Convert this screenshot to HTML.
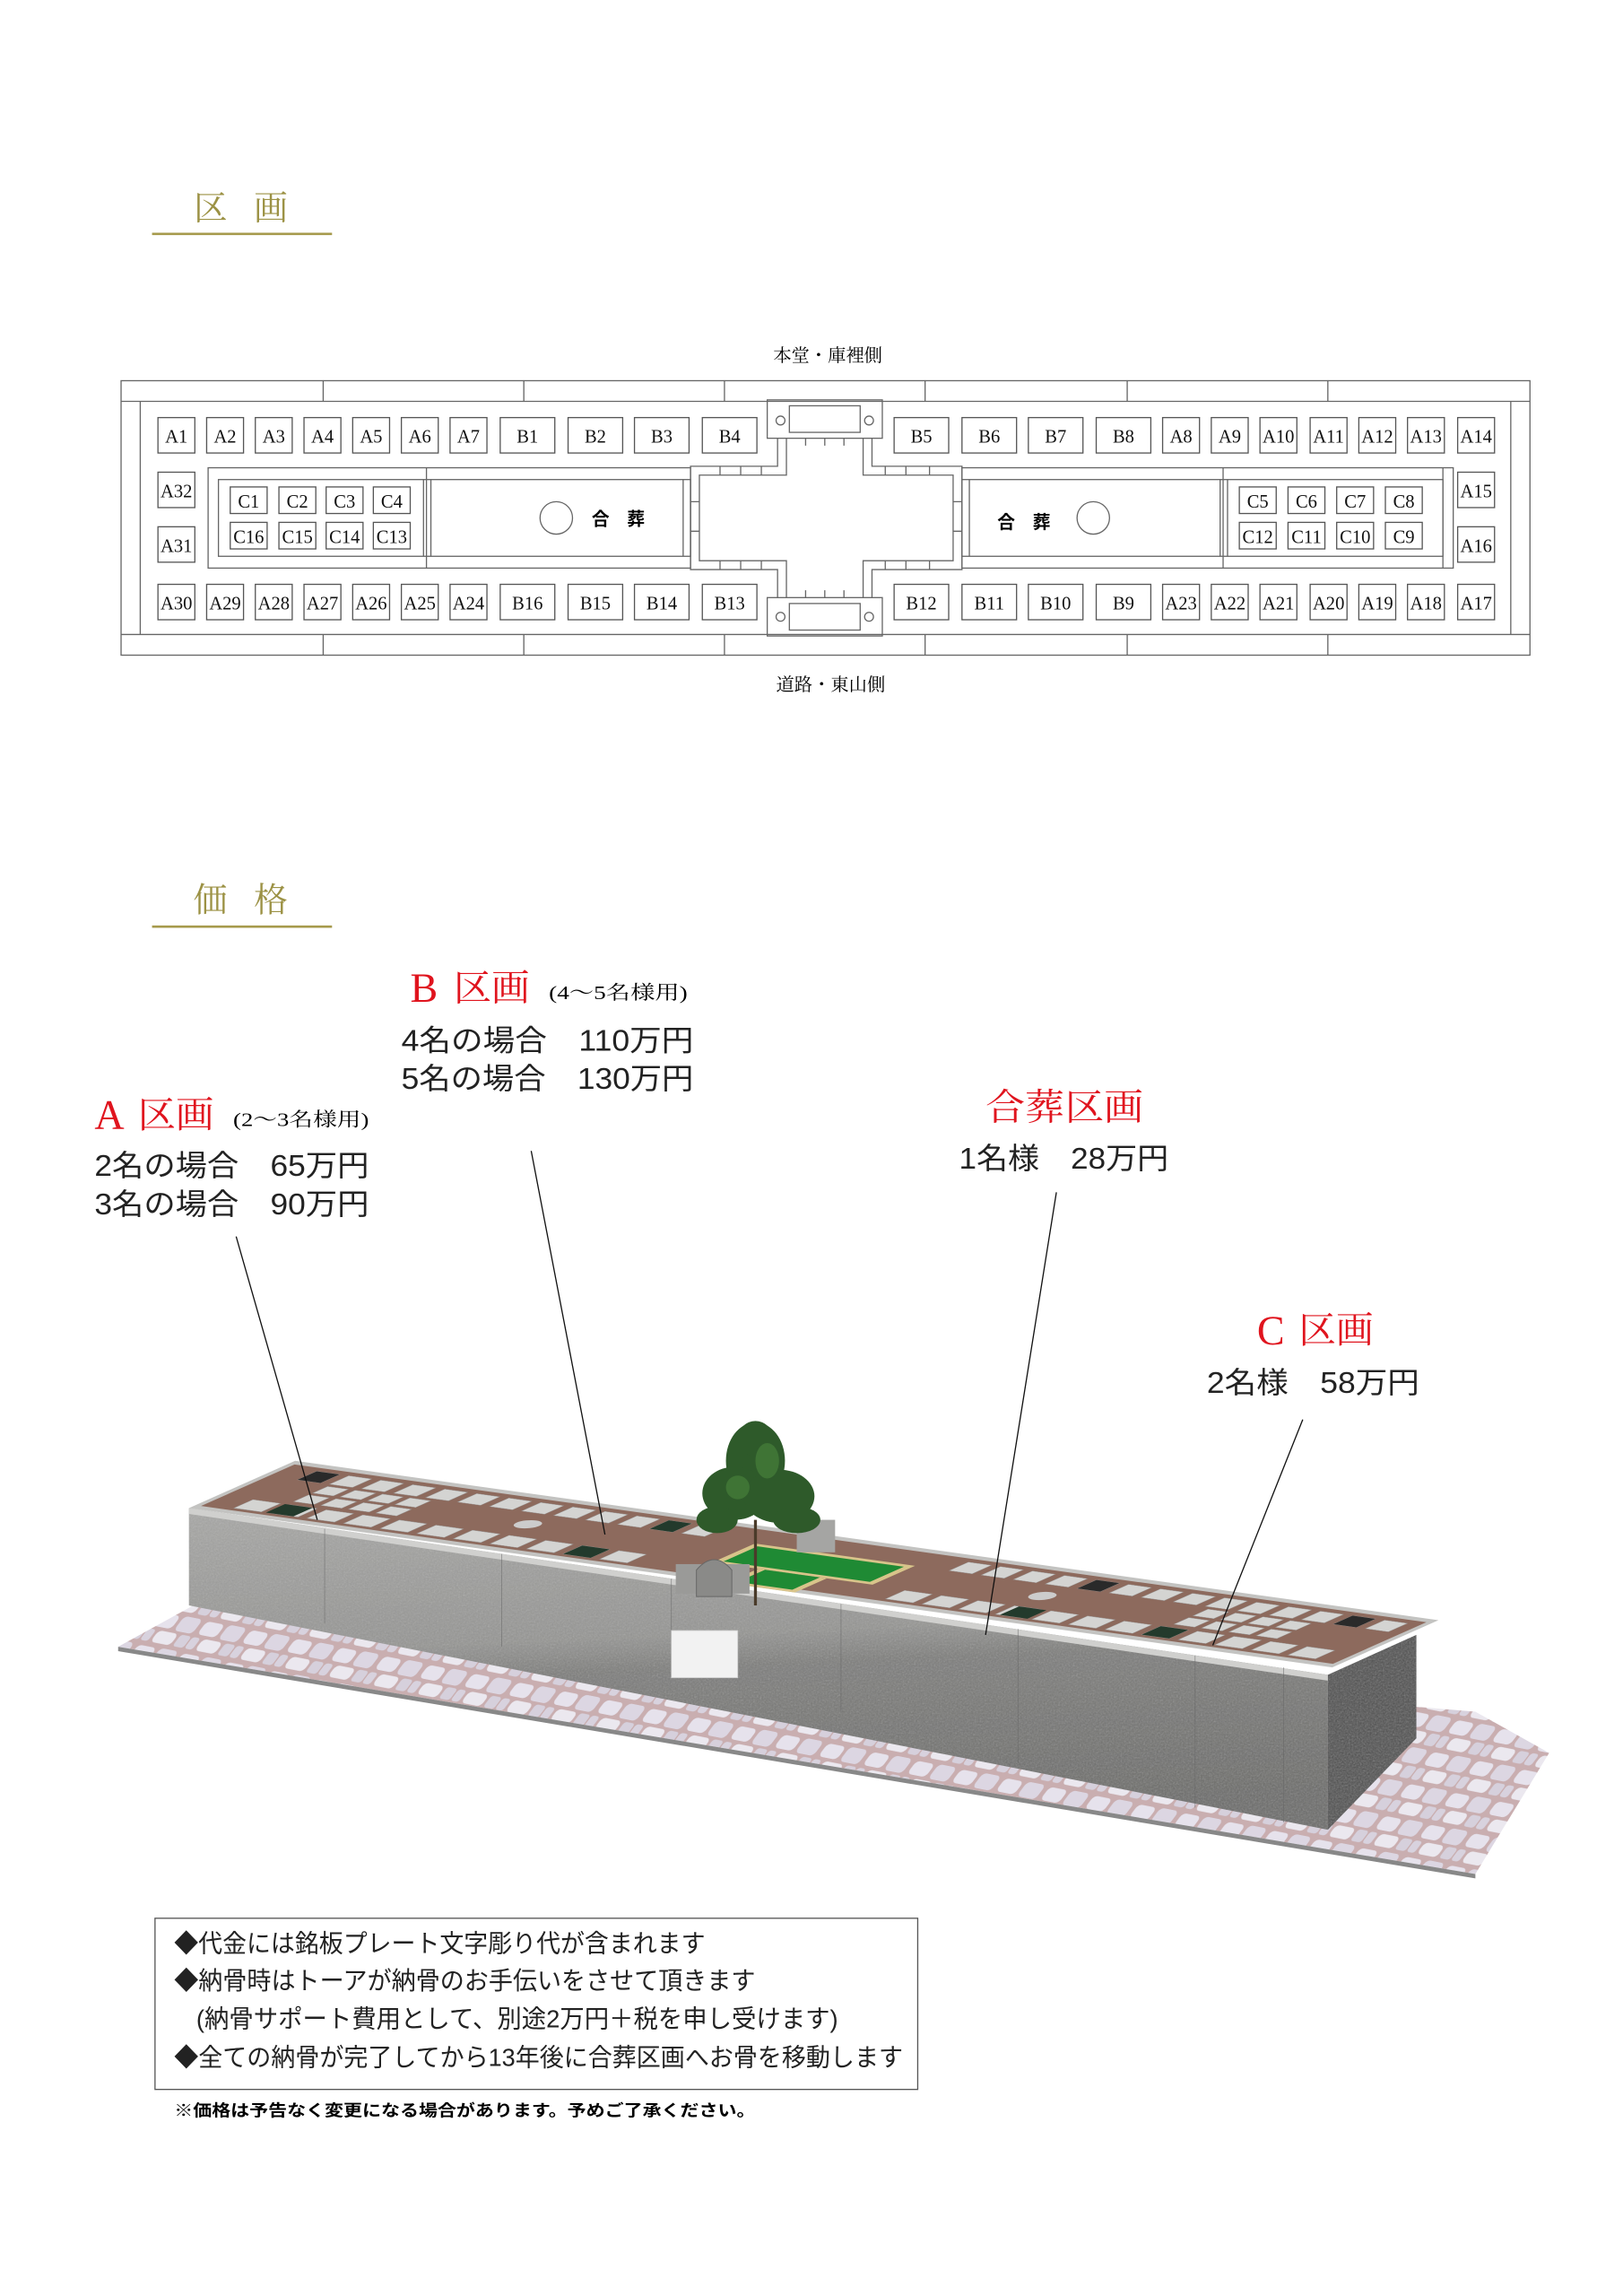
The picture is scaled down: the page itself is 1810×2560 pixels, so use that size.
<!DOCTYPE html>
<html><head><meta charset="utf-8"><style>
html,body{margin:0;padding:0;background:#fff;}
svg{display:block;}
.c{fill:#fff;stroke:#555;stroke-width:.8}
.l{fill:none;stroke:#666;stroke-width:.8}
.t{font-family:"Liberation Serif","Noto Serif CJK JP",serif;font-size:12.5px;fill:#111;text-anchor:middle}
.s{font-family:"Liberation Sans","Noto Sans CJK JP",sans-serif;fill:#222}
.r{font-family:"Liberation Serif","Noto Serif CJK JP",serif;fill:#e0141e}
.h{font-family:"Liberation Serif","Noto Serif CJK JP",serif;fill:#9c9245;font-size:23px}
</style></head><body>
<svg width="1810" height="2560" viewBox="0 0 1100 1556" xmlns="http://www.w3.org/2000/svg">
<defs>
<pattern id="pv" width="34" height="22" patternUnits="userSpaceOnUse" patternTransform="skewX(-30) rotate(10)">
<rect width="34" height="22" fill="#c9aeb0"/>
<rect x="1.5" y="1.5" width="14" height="9" rx="3" fill="#e6e2ec"/>
<rect x="18" y="1" width="14" height="10" rx="3" fill="#dcd6e2"/>
<rect x="8" y="12.5" width="15" height="8" rx="3" fill="#ebe8ef"/>
<rect x="25" y="12.5" width="8" height="8" rx="2" fill="#d6d0dc"/>
<rect x="0" y="12.5" width="6" height="8" rx="2" fill="#d8d2de"/>
</pattern>
<linearGradient id="fr" x1="0" y1="0" x2="0.15" y2="1">
<stop offset="0" stop-color="#a8a8a6"/><stop offset="0.45" stop-color="#959593"/><stop offset="0.55" stop-color="#7e7e7c"/><stop offset="1" stop-color="#6c6c6a"/></linearGradient>
<filter id="gr"><feTurbulence type="fractalNoise" baseFrequency="0.9" numOctaves="2" result="n"/><feColorMatrix type="saturate" values="0" in="n" result="g"/><feComponentTransfer in="g" result="g2"><feFuncA type="linear" slope="0.25"/></feComponentTransfer><feComposite in="g2" in2="SourceGraphic" operator="in" result="m"/><feMerge><feMergeNode in="SourceGraphic"/><feMergeNode in="m"/></feMerge></filter>
</defs>

<text class="h" x="131" y="149">区</text><text class="h" x="172" y="149">画</text>
<line x1="103" y1="158.5" x2="225" y2="158.5" stroke="#a69a4c" stroke-width="1.6"/>
<text class="h" x="131" y="618">価</text><text class="h" x="172" y="618">格</text>
<line x1="103" y1="628" x2="225" y2="628" stroke="#a69a4c" stroke-width="1.6"/>

<text x="561" y="245" style="font-family:'Liberation Serif','Noto Serif CJK JP',serif;font-size:12px;text-anchor:middle" textLength="74" lengthAdjust="spacingAndGlyphs">本堂・庫裡側</text>
<text x="563" y="468" style="font-family:'Liberation Serif','Noto Serif CJK JP',serif;font-size:12px;text-anchor:middle" textLength="74" lengthAdjust="spacingAndGlyphs">道路・東山側</text>
<rect x="82" y="258" width="955" height="186" class="l" stroke="#888"/>
<line x1="82" y1="272" x2="1037" y2="272" class="l"/>
<line x1="82" y1="430" x2="1037" y2="430" class="l"/>
<g class="l">
<path d="M219 258V272M355 258V272M491 258V272M627 258V272M764 258V272M900 258V272"/>
<path d="M219 430V444M355 430V444M491 430V444M627 430V444M764 430V444M900 430V444"/>
<path d="M95 272V430M1024 272V430"/>
</g>
<rect x="141" y="317" width="327" height="68" class="l"/>
<rect x="148" y="325" width="320" height="52" class="l"/>
<path class="l" d="M289 317V385M287 325V377M292 325V377M463 325V377"/>
<rect x="652" y="317" width="333" height="68" class="l"/>
<rect x="652" y="325" width="326" height="52" class="l"/>
<path class="l" d="M829 317V385M827 325V377M832 325V377M657 325V377M978 317V385"/>
<rect x="520" y="271" width="78" height="26" class="l"/>
<rect x="535" y="275" width="48" height="18" class="l"/>
<circle cx="529" cy="285" r="3" class="l"/><circle cx="589" cy="285" r="3" class="l"/>
<rect x="520" y="405" width="78" height="26" class="l"/>
<rect x="535" y="409" width="48" height="18" class="l"/>
<circle cx="529" cy="418" r="3" class="l"/><circle cx="589" cy="418" r="3" class="l"/>
<path class="l" d="M527 297V316H468V386H527V405M591 297V316H652V386H591V405"/>
<path class="l" d="M533 297V322H474V380H533V405M585 297V322H646V380H585V405"/>
<path class="l" d="M546 297V302M559 297V302M572 297V302M546 400V405M559 400V405M572 400V405M488 316V322M502 316V322M516 316V322M600 316V322M614 316V322M630 316V322M488 380V386M502 380V386M516 380V386M600 380V386M614 380V386M630 380V386M468 340H474M468 360H474M646 340H652M646 360H652"/>
<circle cx="377" cy="351" r="11" class="l" stroke="#444"/>
<text x="401" y="356" style="font-family:'Noto Sans CJK JP',sans-serif;font-size:12px;font-weight:bold">合</text>
<text x="425" y="356" style="font-family:'Noto Sans CJK JP',sans-serif;font-size:12px;font-weight:bold">葬</text>
<circle cx="741" cy="351" r="11" class="l" stroke="#444"/>
<text x="676" y="358" style="font-family:'Noto Sans CJK JP',sans-serif;font-size:12px;font-weight:bold">合</text>
<text x="700" y="358" style="font-family:'Noto Sans CJK JP',sans-serif;font-size:12px;font-weight:bold">葬</text>

<g>
<rect class="c" x="107" y="283" width="25" height="24"/><text class="t" x="119.5" y="300">A1</text>
<rect class="c" x="140" y="283" width="25" height="24"/><text class="t" x="152.5" y="300">A2</text>
<rect class="c" x="173" y="283" width="25" height="24"/><text class="t" x="185.5" y="300">A3</text>
<rect class="c" x="206" y="283" width="25" height="24"/><text class="t" x="218.5" y="300">A4</text>
<rect class="c" x="239" y="283" width="25" height="24"/><text class="t" x="251.5" y="300">A5</text>
<rect class="c" x="272" y="283" width="25" height="24"/><text class="t" x="284.5" y="300">A6</text>
<rect class="c" x="305" y="283" width="25" height="24"/><text class="t" x="317.5" y="300">A7</text>
<rect class="c" x="339" y="283" width="37" height="24"/><text class="t" x="357.5" y="300">B1</text>
<rect class="c" x="385" y="283" width="37" height="24"/><text class="t" x="403.5" y="300">B2</text>
<rect class="c" x="430" y="283" width="37" height="24"/><text class="t" x="448.5" y="300">B3</text>
<rect class="c" x="476" y="283" width="37" height="24"/><text class="t" x="494.5" y="300">B4</text>
<rect class="c" x="606" y="283" width="37" height="24"/><text class="t" x="624.5" y="300">B5</text>
<rect class="c" x="652" y="283" width="37" height="24"/><text class="t" x="670.5" y="300">B6</text>
<rect class="c" x="697" y="283" width="37" height="24"/><text class="t" x="715.5" y="300">B7</text>
<rect class="c" x="743" y="283" width="37" height="24"/><text class="t" x="761.5" y="300">B8</text>
<rect class="c" x="788" y="283" width="25" height="24"/><text class="t" x="800.5" y="300">A8</text>
<rect class="c" x="821" y="283" width="25" height="24"/><text class="t" x="833.5" y="300">A9</text>
<rect class="c" x="854" y="283" width="25" height="24"/><text class="t" x="866.5" y="300">A10</text>
<rect class="c" x="888" y="283" width="25" height="24"/><text class="t" x="900.5" y="300">A11</text>
<rect class="c" x="921" y="283" width="25" height="24"/><text class="t" x="933.5" y="300">A12</text>
<rect class="c" x="954" y="283" width="25" height="24"/><text class="t" x="966.5" y="300">A13</text>
<rect class="c" x="988" y="283" width="25" height="24"/><text class="t" x="1000.5" y="300">A14</text>
</g>
<g>
<rect class="c" x="107" y="396" width="25" height="24"/><text class="t" x="119.5" y="413">A30</text>
<rect class="c" x="140" y="396" width="25" height="24"/><text class="t" x="152.5" y="413">A29</text>
<rect class="c" x="173" y="396" width="25" height="24"/><text class="t" x="185.5" y="413">A28</text>
<rect class="c" x="206" y="396" width="25" height="24"/><text class="t" x="218.5" y="413">A27</text>
<rect class="c" x="239" y="396" width="25" height="24"/><text class="t" x="251.5" y="413">A26</text>
<rect class="c" x="272" y="396" width="25" height="24"/><text class="t" x="284.5" y="413">A25</text>
<rect class="c" x="305" y="396" width="25" height="24"/><text class="t" x="317.5" y="413">A24</text>
<rect class="c" x="339" y="396" width="37" height="24"/><text class="t" x="357.5" y="413">B16</text>
<rect class="c" x="385" y="396" width="37" height="24"/><text class="t" x="403.5" y="413">B15</text>
<rect class="c" x="430" y="396" width="37" height="24"/><text class="t" x="448.5" y="413">B14</text>
<rect class="c" x="476" y="396" width="37" height="24"/><text class="t" x="494.5" y="413">B13</text>
<rect class="c" x="606" y="396" width="37" height="24"/><text class="t" x="624.5" y="413">B12</text>
<rect class="c" x="652" y="396" width="37" height="24"/><text class="t" x="670.5" y="413">B11</text>
<rect class="c" x="697" y="396" width="37" height="24"/><text class="t" x="715.5" y="413">B10</text>
<rect class="c" x="743" y="396" width="37" height="24"/><text class="t" x="761.5" y="413">B9</text>
<rect class="c" x="788" y="396" width="25" height="24"/><text class="t" x="800.5" y="413">A23</text>
<rect class="c" x="821" y="396" width="25" height="24"/><text class="t" x="833.5" y="413">A22</text>
<rect class="c" x="854" y="396" width="25" height="24"/><text class="t" x="866.5" y="413">A21</text>
<rect class="c" x="888" y="396" width="25" height="24"/><text class="t" x="900.5" y="413">A20</text>
<rect class="c" x="921" y="396" width="25" height="24"/><text class="t" x="933.5" y="413">A19</text>
<rect class="c" x="954" y="396" width="25" height="24"/><text class="t" x="966.5" y="413">A18</text>
<rect class="c" x="988" y="396" width="25" height="24"/><text class="t" x="1000.5" y="413">A17</text>
</g>
<g>
<rect class="c" x="107" y="320" width="25" height="24"/><text class="t" x="119.5" y="337">A32</text>
<rect class="c" x="107" y="357" width="25" height="24"/><text class="t" x="119.5" y="374">A31</text>
<rect class="c" x="988" y="320" width="25" height="24"/><text class="t" x="1000.5" y="337">A15</text>
<rect class="c" x="988" y="357" width="25" height="24"/><text class="t" x="1000.5" y="374">A16</text>
</g>
<g>
<rect class="c" x="156" y="330" width="25" height="18"/><text class="t" x="168.5" y="344">C1</text>
<rect class="c" x="189" y="330" width="25" height="18"/><text class="t" x="201.5" y="344">C2</text>
<rect class="c" x="221" y="330" width="25" height="18"/><text class="t" x="233.5" y="344">C3</text>
<rect class="c" x="253" y="330" width="25" height="18"/><text class="t" x="265.5" y="344">C4</text>
<rect class="c" x="156" y="354" width="25" height="18"/><text class="t" x="168.5" y="368">C16</text>
<rect class="c" x="189" y="354" width="25" height="18"/><text class="t" x="201.5" y="368">C15</text>
<rect class="c" x="221" y="354" width="25" height="18"/><text class="t" x="233.5" y="368">C14</text>
<rect class="c" x="253" y="354" width="25" height="18"/><text class="t" x="265.5" y="368">C13</text>
<rect class="c" x="840" y="330" width="25" height="18"/><text class="t" x="852.5" y="344">C5</text>
<rect class="c" x="873" y="330" width="25" height="18"/><text class="t" x="885.5" y="344">C6</text>
<rect class="c" x="906" y="330" width="25" height="18"/><text class="t" x="918.5" y="344">C7</text>
<rect class="c" x="939" y="330" width="25" height="18"/><text class="t" x="951.5" y="344">C8</text>
<rect class="c" x="840" y="354" width="25" height="18"/><text class="t" x="852.5" y="368">C12</text>
<rect class="c" x="873" y="354" width="25" height="18"/><text class="t" x="885.5" y="368">C11</text>
<rect class="c" x="906" y="354" width="25" height="18"/><text class="t" x="918.5" y="368">C10</text>
<rect class="c" x="939" y="354" width="25" height="18"/><text class="t" x="951.5" y="368">C9</text>
</g>

<text class="r" x="64" y="765" font-size="28">A</text>
<text class="r" x="93" y="764" font-size="25" textLength="52" lengthAdjust="spacingAndGlyphs">区画</text>
<text x="158" y="763" style="font-family:'Liberation Serif','Noto Serif CJK JP',serif;font-size:13px" textLength="92" lengthAdjust="spacingAndGlyphs">(2〜3名様用)</text>
<text class="s" x="64" y="797" font-size="20" textLength="186" lengthAdjust="spacingAndGlyphs">2名の場合　65万円</text>
<text class="s" x="64" y="823" font-size="20" textLength="186" lengthAdjust="spacingAndGlyphs">3名の場合　90万円</text>

<text class="r" x="278" y="679" font-size="28">B</text>
<text class="r" x="307" y="678" font-size="25" textLength="52" lengthAdjust="spacingAndGlyphs">区画</text>
<text x="372" y="677" style="font-family:'Liberation Serif','Noto Serif CJK JP',serif;font-size:13px" textLength="94" lengthAdjust="spacingAndGlyphs">(4〜5名様用)</text>
<text class="s" x="272" y="712" font-size="20" textLength="198" lengthAdjust="spacingAndGlyphs">4名の場合　110万円</text>
<text class="s" x="272" y="738" font-size="20" textLength="198" lengthAdjust="spacingAndGlyphs">5名の場合　130万円</text>

<text class="r" x="668" y="759" font-size="25" textLength="107" lengthAdjust="spacingAndGlyphs">合葬区画</text>
<text class="s" x="650" y="792" font-size="20" textLength="142" lengthAdjust="spacingAndGlyphs">1名様　28万円</text>

<text class="r" x="852" y="911" font-size="28">C</text>
<text class="r" x="880" y="910" font-size="25" textLength="51" lengthAdjust="spacingAndGlyphs">区画</text>
<text class="s" x="818" y="944" font-size="20" textLength="144" lengthAdjust="spacingAndGlyphs">2名様　58万円</text>

<polygon points="80,1116 131,1088 1000,1160 1050,1188 1000,1270" fill="url(#pv)"/>
<polygon points="80,1116 1000,1270 1000,1273 80,1119" fill="#888"/>
<polygon points="128,1022 900,1135 900,1240 128,1088" fill="url(#fr)" filter="url(#gr)"/>
<polygon points="900,1135 960,1108 960,1178 900,1240" fill="#4f4f4f" filter="url(#gr)"/>
<polygon points="128,1022 900,1135 900,1139 128,1026" fill="#d0d0ce"/>
<g stroke="#666" stroke-width=".5" opacity=".6">
<path d="M220 1036V1100M340 1053V1116M455 1070V1133M570 1087V1160M690 1104V1195M810 1122V1225M870 1130V1235"/>
</g>
<rect x="455" y="1105" width="45" height="32" fill="#f2f2f2" stroke="#ccc" stroke-width=".5"/>
<g transform="matrix(0.775,0.108,0.72,-0.32,128,1022)">
<rect x="0" y="0" width="1000" height="100" fill="#c3c3c1"/>
<rect x="5" y="6" width="990" height="88" fill="#8d6a5d"/>
<g fill="#d4d4d2" stroke="#999" stroke-width=".6">
<rect x="30" y="70" width="20" height="18"/><rect x="58" y="70" width="20" height="18"/><rect x="86" y="70" width="20" height="18"/><rect x="114" y="70" width="20" height="18"/><rect x="142" y="70" width="20" height="18"/><rect x="170" y="70" width="20" height="18"/><rect x="198" y="70" width="20" height="18"/><rect x="226" y="70" width="20" height="18"/><rect x="254" y="70" width="20" height="18"/><rect x="282" y="70" width="20" height="18"/><rect x="310" y="70" width="20" height="18"/><rect x="338" y="70" width="20" height="18"/><rect x="366" y="70" width="20" height="18"/>
<rect x="600" y="70" width="20" height="18"/><rect x="628" y="70" width="20" height="18"/><rect x="656" y="70" width="20" height="18"/><rect x="684" y="70" width="20" height="18"/><rect x="712" y="70" width="20" height="18"/><rect x="740" y="70" width="20" height="18"/><rect x="768" y="70" width="20" height="18"/><rect x="796" y="70" width="20" height="18"/><rect x="824" y="70" width="20" height="18"/><rect x="852" y="70" width="20" height="18"/><rect x="880" y="70" width="20" height="18"/><rect x="908" y="70" width="20" height="18"/><rect x="936" y="70" width="20" height="18"/><rect x="964" y="70" width="20" height="18"/>
<rect x="30" y="10" width="24" height="18"/><rect x="62" y="10" width="24" height="18"/><rect x="94" y="10" width="24" height="18"/><rect x="126" y="10" width="24" height="18"/><rect x="158" y="10" width="24" height="18"/><rect x="190" y="10" width="24" height="18"/><rect x="222" y="10" width="24" height="18"/><rect x="254" y="10" width="24" height="18"/><rect x="286" y="10" width="24" height="18"/><rect x="318" y="10" width="24" height="18"/><rect x="350" y="10" width="24" height="18"/>
<rect x="600" y="10" width="24" height="18"/><rect x="632" y="10" width="24" height="18"/><rect x="664" y="10" width="24" height="18"/><rect x="696" y="10" width="24" height="18"/><rect x="728" y="10" width="24" height="18"/><rect x="760" y="10" width="24" height="18"/><rect x="792" y="10" width="24" height="18"/><rect x="824" y="10" width="24" height="18"/><rect x="856" y="10" width="24" height="18"/><rect x="888" y="10" width="24" height="18"/><rect x="920" y="10" width="24" height="18"/><rect x="952" y="10" width="24" height="18"/>
<rect x="60" y="34" width="18" height="14"/><rect x="84" y="34" width="18" height="14"/><rect x="108" y="34" width="18" height="14"/><rect x="132" y="34" width="18" height="14"/>
<rect x="60" y="52" width="18" height="14"/><rect x="84" y="52" width="18" height="14"/><rect x="108" y="52" width="18" height="14"/><rect x="132" y="52" width="18" height="14"/>
<rect x="830" y="34" width="18" height="14"/><rect x="854" y="34" width="18" height="14"/><rect x="878" y="34" width="18" height="14"/><rect x="902" y="34" width="18" height="14"/>
<rect x="830" y="52" width="18" height="14"/><rect x="854" y="52" width="18" height="14"/><rect x="878" y="52" width="18" height="14"/><rect x="902" y="52" width="18" height="14"/>
</g>
<g fill="#233a2c"><rect x="58" y="10" width="24" height="18"/><rect x="318" y="10" width="24" height="18"/><rect x="824" y="10" width="24" height="18"/><rect x="338" y="70" width="20" height="18"/><rect x="700" y="10" width="24" height="18"/></g>
<g fill="#2a2a2a"><rect x="30" y="70" width="20" height="18"/><rect x="712" y="70" width="20" height="18"/><rect x="936" y="70" width="20" height="18"/></g>
<rect x="430" y="30" width="140" height="40" fill="#d8c48a"/>
<rect x="436" y="34" width="128" height="32" fill="#1f8a34"/>
<rect x="470" y="0" width="60" height="30" fill="#d8c48a"/>
<rect x="476" y="4" width="48" height="26" fill="#1f8a34"/>
<ellipse cx="250" cy="50" rx="10" ry="8" fill="#ccc"/>
<ellipse cx="700" cy="50" rx="10" ry="8" fill="#ccc"/>
</g>
<rect x="458" y="1060" width="50" height="20" fill="#9a9a98"/>
<path d="M472 1082V1064Q484 1050 496 1064V1082Z" fill="#8a8a88" stroke="#666" stroke-width=".6"/>
<rect x="540" y="1030" width="26" height="22" fill="#a5a5a3"/>
<line x1="512" y1="1030" x2="512" y2="1088" stroke="#4a3b2a" stroke-width="2"/>
<g fill="#2e5a2a">
<ellipse cx="512" cy="990" rx="20" ry="26"/>
<ellipse cx="498" cy="1012" rx="22" ry="18"/>
<ellipse cx="528" cy="1014" rx="24" ry="18"/>
<ellipse cx="512" cy="975" rx="12" ry="12"/>
<ellipse cx="486" cy="1030" rx="14" ry="9"/>
<ellipse cx="540" cy="1030" rx="16" ry="9"/>
</g>
<g fill="#3f7435"><ellipse cx="520" cy="990" rx="8" ry="12"/><ellipse cx="500" cy="1008" rx="8" ry="8"/></g>

<g stroke="#111" stroke-width=".8">
<line x1="160" y1="838" x2="215" y2="1030"/>
<line x1="360" y1="780" x2="410" y2="1040"/>
<line x1="716" y1="808" x2="668" y2="1108"/>
<line x1="883" y1="962" x2="822" y2="1115"/>
</g>

<rect x="105" y="1300" width="517" height="116" fill="none" stroke="#555" stroke-width=".8"/>
<text class="s" x="118" y="1323" font-size="17" textLength="360" lengthAdjust="spacingAndGlyphs">◆代金には銘板プレート文字彫り代が含まれます</text>
<text class="s" x="118" y="1348" font-size="17" textLength="394" lengthAdjust="spacingAndGlyphs">◆納骨時はトーアが納骨のお手伝いをさせて頂きます</text>
<text class="s" x="133" y="1374" font-size="17" textLength="435" lengthAdjust="spacingAndGlyphs">(納骨サポート費用として、別途2万円＋税を申し受けます)</text>
<text class="s" x="118" y="1400" font-size="17" textLength="494" lengthAdjust="spacingAndGlyphs">◆全ての納骨が完了してから13年後に合葬区画へお骨を移動します</text>
<text x="118" y="1434" style="font-family:'Liberation Sans','Noto Sans CJK JP',sans-serif;font-size:11px;font-weight:bold" textLength="394" lengthAdjust="spacingAndGlyphs">※価格は予告なく変更になる場合があります。予めご了承ください。</text>
</svg>
</body></html>
